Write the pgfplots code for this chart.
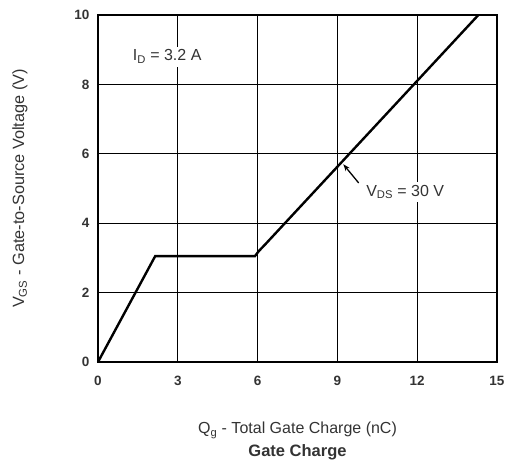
\documentclass[border=0pt]{standalone}
\usepackage{pgfplots}
\pgfplotsset{compat=1.18}
\usetikzlibrary{arrows.meta}
\usepackage{fontspec}
\setmainfont{Liberation Sans}
\begin{document}
\begin{tikzpicture}[x=1pt,y=1pt]
\path[use as bounding box] (0,0) rectangle (507,462);
\begin{axis}[at={(98pt,100pt)}, anchor=south west, scale only axis,
  width=399pt, height=347pt,
  xmin=0, xmax=15, ymin=0, ymax=10,
  xtick={0,3,6,9,12,15}, ytick={0,2,4,6,8,10},
  grid=major, major grid style={black, line width=1.35pt},
  axis line style={black, line width=1.7pt},
  major tick length=0pt,
  /pgf/number format/assume math mode=true,
  tick label style={font=\fontsize{13.5}{15}\selectfont\bfseries, text=black!80},
  xticklabel style={yshift=-11pt},
  yticklabel style={xshift=-5pt},
  xlabel={Q\textsubscript{g} - Total Gate Charge (nC)\\[1pt]{\fontsize{16.5}{20}\selectfont\bfseries Gate Charge}},
  xlabel style={at={(axis description cs:0.5,-0.228)}, anchor=center, align=center, font=\fontsize{16}{22}\selectfont, text=black!80},
  ylabel={V\textsubscript{GS} - Gate-to-Source Voltage (V)},
  ylabel style={at={(axis description cs:-0.1955,0.5)}, anchor=center, font=\fontsize{16.3}{18}\selectfont, text=black!80},
  clip=false,
]
\addplot[black, line width=2.4pt] coordinates {
  (0,0) (2.15,3.05) (5.9,3.05) (6.05,3.2) (6.3,3.4) (14.3,10)
};
\node[fill=white, inner sep=3pt, text=black!80, font=\fontsize{16}{18}\selectfont] at (axis cs:2.6,8.8) {I\textsubscript{D} = 3.2 A};
\node[fill=white, inner sep=3pt, text=black!80, font=\fontsize{16}{18}\selectfont] at (axis cs:11.55,4.9) {V\textsubscript{DS} = 30 V};
\draw[-{Stealth[length=7pt,width=5pt]}, black, line width=1.3pt] (axis cs:9.8,5.16) -- (axis cs:9.22,5.7);
\end{axis}
\end{tikzpicture}
\end{document}
